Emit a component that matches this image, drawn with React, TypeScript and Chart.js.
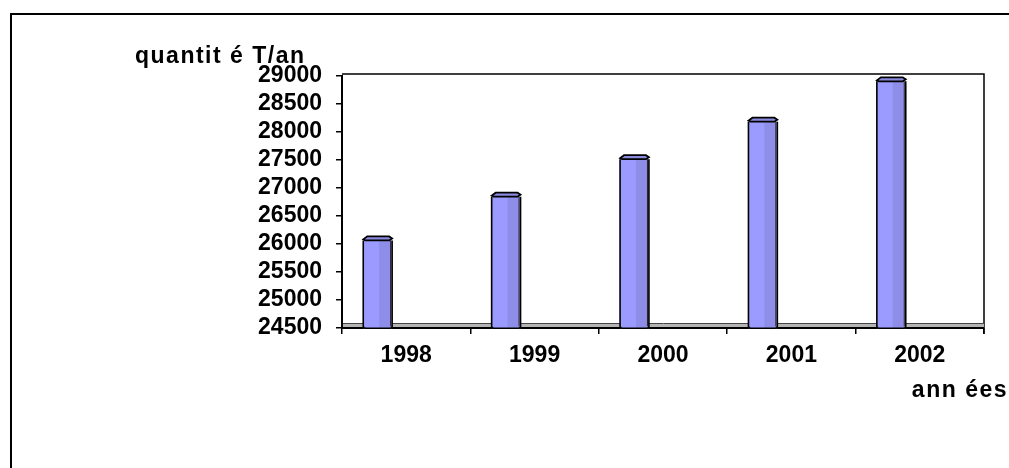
import React, { useEffect, useRef } from "react";
import { Chart, registerables } from "chart.js";

Chart.register(...registerables);

// ---- data ----
const years: string[] = ["1998", "1999", "2000", "2001", "2002"];
const quantities: number[] = [26100, 26880, 27550, 28220, 28940];
const yMin = 24500;
const yMax = 29000;
const yStep = 500;
const yTitle = "quantit é T/an";
const xTitle = "ann ées";

const FONT = "'Liberation Sans', Arial, Helvetica, sans-serif";

const decor = {
  id: "decor",
  beforeDatasetsDraw(chart: any) {
    const { ctx, chartArea: a } = chart;
    ctx.save();
    // plot frame (top + right)
    ctx.strokeStyle = "#000";
    ctx.lineWidth = 1.5;
    ctx.beginPath();
    ctx.moveTo(a.left, a.top - 2);
    ctx.lineTo(a.right, a.top - 2);
    ctx.lineTo(a.right, a.bottom + 6);
    ctx.stroke();
    // floor band
    ctx.fillStyle = "#b4b4b4";
    ctx.fillRect(a.left + 1, a.bottom - 4, a.right - a.left - 1, 4);
    ctx.strokeStyle = "#444";
    ctx.lineWidth = 1;
    ctx.beginPath();
    ctx.moveTo(a.left + 1, a.bottom - 4.5);
    ctx.lineTo(a.right, a.bottom - 4.5);
    ctx.stroke();
    ctx.strokeStyle = "#000";
    ctx.lineWidth = 2;
    ctx.beginPath();
    ctx.moveTo(a.left, a.bottom);
    ctx.lineTo(a.right, a.bottom);
    ctx.stroke();
    ctx.restore();
  },
  afterDatasetsDraw(chart: any) {
    const { ctx } = chart;
    const xs = chart.scales.x;
    const cat = (xs.right - xs.left) / xs.ticks.length;
    const dx = -0.222 * cat;
    const meta = chart.getDatasetMeta(0);
    ctx.save();
    meta.data.forEach((el: any) => {
      const { x, y, base, width } = el.getProps(["x", "y", "base", "width"], true);
      const x0 = x - width / 2 + dx;
      const x1 = x + width / 2 + dx;
      const w = x1 - x0;
      const top = y + 2;
      const bot = base + 1;
      // body
      ctx.fillStyle = "#9b9bff";
      ctx.fillRect(x0, top, w, bot - top);
      ctx.fillStyle = "#8e8ee9";
      ctx.fillRect(x0 + w * 0.55, top, w * 0.38, bot - top);
      // outline
      ctx.strokeStyle = "#000";
      ctx.lineWidth = 1.6;
      ctx.beginPath();
      ctx.moveTo(x0, top);
      ctx.lineTo(x0, bot - 2);
      ctx.quadraticCurveTo(x0, bot, x0 + 3, bot);
      ctx.lineTo(x1 - 3, bot);
      ctx.quadraticCurveTo(x1, bot, x1, bot - 2);
      ctx.lineTo(x1, top);
      ctx.stroke();
      ctx.lineWidth = 1;
      ctx.strokeStyle = "#222";
      ctx.beginPath();
      ctx.moveTo(x1 - 1.5, top);
      ctx.lineTo(x1 - 1.5, bot - 2);
      ctx.stroke();
      // cap
      ctx.fillStyle = "#8a8adf";
      ctx.strokeStyle = "#000";
      ctx.lineWidth = 1.8;
      ctx.beginPath();
      ctx.moveTo(x0, y + 1);
      ctx.lineTo(x0 + 4, y - 2);
      ctx.lineTo(x1 - 3, y - 2);
      ctx.lineTo(x1, y);
      ctx.lineTo(x1 - 3, y + 2);
      ctx.lineTo(x0 + 2, y + 2);
      ctx.closePath();
      ctx.fill();
      ctx.stroke();
    });
    ctx.restore();
  },
  afterDraw(chart: any) {
    const { ctx } = chart;
    ctx.save();
    ctx.fillStyle = "#000";
    ctx.font = `bold 23px ${FONT}`;
    try {
      (ctx as any).letterSpacing = "1.5px";
    } catch (e) {}
    ctx.textBaseline = "alphabetic";
    ctx.textAlign = "left";
    ctx.fillText(yTitle, 135, 63);
    ctx.textAlign = "right";
    ctx.fillText(xTitle, 1008, 397);
    try {
      (ctx as any).letterSpacing = "0px";
    } catch (e) {}
    // outer frame
    ctx.strokeStyle = "#000";
    ctx.lineWidth = 2;
    ctx.strokeRect(11, 14, 1100, 600);
    ctx.restore();
  },
};

export default function App() {
  const ref = useRef<HTMLCanvasElement | null>(null);
  useEffect(() => {
    if (!ref.current) return;
    const chart = new Chart(ref.current, {
      type: "bar",
      data: {
        labels: years,
        datasets: [
          {
            data: quantities,
            base: yMin,
            backgroundColor: "rgba(0,0,0,0)",
            borderWidth: 0,
            barPercentage: 0.225,
            categoryPercentage: 1,
          } as any,
        ],
      },
      options: {
        animation: false,
        responsive: true,
        maintainAspectRatio: false,
        devicePixelRatio: 1,
        layout: { padding: { top: 76, left: 0, right: 25, bottom: 0 } },
        plugins: {
          legend: { display: false },
          tooltip: { enabled: false },
          title: { display: false },
        },
        scales: {
          x: {
            offset: true,
            grid: {
              offset: true,
              drawOnChartArea: false,
              drawTicks: true,
              tickLength: 6,
              color: "#000",
              lineWidth: 1.5,
            },
            border: { display: false },
            ticks: {
              color: "#000",
              padding: 8,
              maxRotation: 0,
              font: { family: FONT, size: 23, weight: "bold" },
            },
            afterFit: (s: any) => {
              s.height = 140;
            },
          },
          y: {
            min: yMin,
            max: yMax,
            grid: {
              drawOnChartArea: false,
              drawTicks: true,
              tickLength: 6,
              color: "#000",
              lineWidth: 1.5,
            },
            border: { display: true, color: "#000", width: 2 },
            ticks: {
              stepSize: yStep,
              autoSkip: false,
              color: "#000",
              padding: 14,
              font: { family: FONT, size: 23, weight: "bold" },
              callback: (v: any) => String(v),
            },
            afterFit: (s: any) => {
              s.width = 342;
            },
          },
        },
      },
      plugins: [decor],
    });
    return () => chart.destroy();
  }, []);
  return (
    <div style={{ position: "fixed", left: 0, top: 0, width: 1009, height: 468, background: "#fff" }}>
      <canvas ref={ref} />
    </div>
  );
}
